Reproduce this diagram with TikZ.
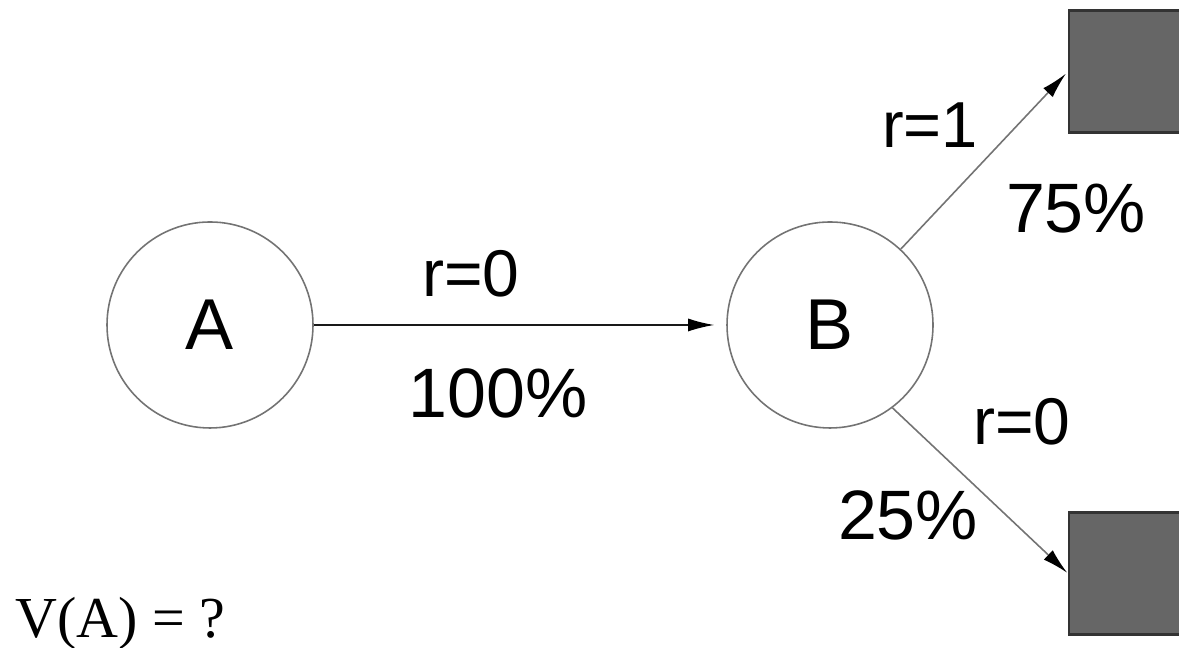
\documentclass[tikz,border=0pt]{standalone}
\usepackage{fontspec}
\setmainfont{Liberation Sans}
\newfontfamily\timesfont{Liberation Serif}
\usetikzlibrary{arrows.meta}

\tikzset{
  state/.style={circle, draw=black!55, line width=0.45pt, minimum size=2.06cm,
    inner sep=0pt, font=\fontsize{20.5}{24}\selectfont},
  terminal/.style={rectangle, draw=black!80, fill=black!60, line width=0.6pt,
    minimum size=1.22cm, inner sep=0pt},
  trans/.style={-{Latex[length=2.6mm,width=1.3mm,color=black]}, line width=0.45pt},
  lbl/.style={inner sep=0pt, anchor=base},
}

\begin{document}
\begin{tikzpicture}
	\useasboundingbox (0,0) rectangle (11.79,6.48);
	% states and terminal boxes
	\node[state] (A) at (2.10,3.23) {A};
	\node[state] (B) at (8.30,3.23) {B};
	\node[terminal] (T1) at (11.30,5.765) {};
	\node[terminal] (T2) at (11.30,0.745) {};
	% transitions
	\draw[trans, black!90, shorten >=0.12cm] (A) -- (B);
	\draw[trans, black!55, shorten >=0.03cm] (B.47) -- (T1.west);
	\draw[trans, black!55, shorten >=0.01cm] (B.-53) -- (T2.west);
	% rewards and probabilities
	\node[lbl, font=\fontsize{18.8}{22}\selectfont] (rA) at (4.71,3.51) {r=0};
	\node[lbl, font=\fontsize{19.9}{24}\selectfont] (pA) at (4.98,2.30) {100\%};
	\node[lbl, font=\fontsize{18.5}{22}\selectfont] (r1) at (9.30,5.00) {r=1};
	\node[lbl, font=\fontsize{19.9}{24}\selectfont] (p1) at (10.76,4.15) {75\%};
	\node[lbl, font=\fontsize{18.8}{22}\selectfont] (r2) at (10.22,2.03) {r=0};
	\node[lbl, font=\fontsize{19.9}{24}\selectfont] (p2) at (9.08,1.08) {25\%};
	\node[inner sep=0pt, anchor=base west, font=\timesfont\fontsize{16.5}{20}\selectfont] (V) at (0.15,0.10) {V(A) = ?};
\end{tikzpicture}
\end{document}
